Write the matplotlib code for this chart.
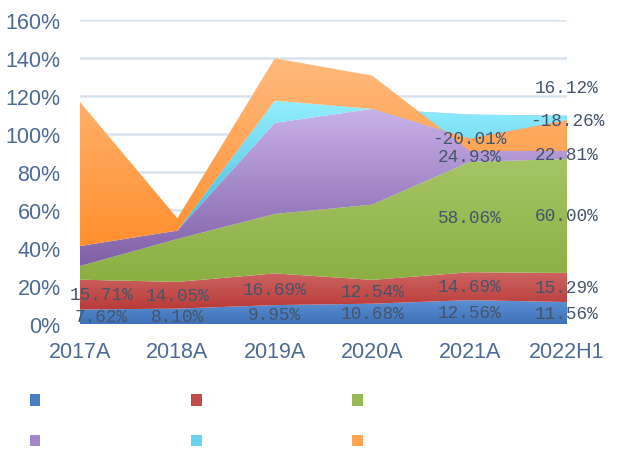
import numpy as np
import matplotlib.pyplot as plt
from matplotlib.colors import LinearSegmentedColormap
from matplotlib.patches import Patch

years = ['2017A', '2018A', '2019A', '2020A', '2021A', '2022H1']

# band heights (%) as drawn in the stacked area chart
blue = [7.62, 8.10, 9.95, 10.68, 12.56, 11.56]
red = [15.71, 14.05, 16.69, 12.54, 14.69, 15.29]
green = [7.2, 22.6, 31.3, 39.6, 58.06, 60.00]
purple = [10.5, 4.4, 47.9, 50.4, 24.93, 22.81]
cyan = [0.0, 0.0, 11.7, 0.0, -12.7, -2.4]
orange = [75.8, 6.5, 22.3, 17.5, -6.5, -16.1]

# data label texts (None = no label)
blue_lbl = ['7.62%', '8.10%', '9.95%', '10.68%', '12.56%', '11.56%']
red_lbl = ['15.71%', '14.05%', '16.69%', '12.54%', '14.69%', '15.29%']
green_lbl = [None, None, None, None, '58.06%', '60.00%']
purple_lbl = [None, None, None, None, '24.93%', '22.81%']
cyan_lbl = [None, None, None, None, None, '16.12%']
orange_lbl = [None, None, None, None, '-20.01%', '-18.26%']

series = [blue, red, green, purple, cyan, orange]
tops = ['#5C8FD2', '#CD6462', '#A5C466', '#C9B1EA', '#93EEFF', '#FFBA7D']
bottoms = ['#3E72B8', '#B83A38', '#8CAF42', '#7F5FA6', '#3CB5D6', '#FF8F2E']
mids = ['#4A7EC4', '#C24E4C', '#98B953', '#A487C8', '#66D2EC', '#FFA353']

x = np.arange(len(years))
cum = np.vstack([np.zeros(len(years)), np.cumsum(np.array(series), axis=0)])

fig = plt.figure(figsize=(6.17, 4.56), dpi=100)
ax = fig.add_axes([80/617, 1-325/456, 487/617, 304/456])

grad = np.linspace(0, 1, 256).reshape(-1, 1)
for i in range(len(series)):
    lo, hi = cum[i], cum[i+1]
    poly = ax.fill_between(x, lo, hi, facecolor='none', edgecolor='none', zorder=2+i)
    y0 = min(lo.min(), hi.min())
    y1 = max(lo.max(), hi.max())
    cmap = LinearSegmentedColormap.from_list('g%d' % i, [bottoms[i], tops[i]])
    im = ax.imshow(grad, extent=[x[0], x[-1], y0, y1], origin='lower', aspect='auto',
                   cmap=cmap, zorder=2+i, interpolation='bilinear')
    im.set_clip_path(poly.get_paths()[0], transform=ax.transData)

ax.set_xlim(x[0], x[-1])
ax.set_ylim(0, 160)
ax.set_yticks(range(0, 161, 20))
ax.set_yticklabels(['%d%%' % v for v in range(0, 161, 20)])
ax.set_xticks(x)
ax.set_xticklabels(years)
ax.yaxis.grid(True, color='#D9E3F0', lw=1.8)
ax.set_axisbelow(True)
for s in ax.spines.values():
    s.set_visible(False)
ax.tick_params(axis='y', length=0, pad=14, labelsize=15.5, labelcolor='#4C6A94')
ax.tick_params(axis='x', length=0, pad=12, labelsize=15.5, labelcolor='#4C6A94')
for t in ax.get_xticklabels() + ax.get_yticklabels():
    t.set_fontfamily('Liberation Sans')

# data labels
lbl_kw = dict(ha='center', va='center', fontsize=12.8, color='#44546A',
              family='Liberation Mono', zorder=20, clip_on=False)


def xpos(j):
    return x[j] + 0.22 if j == 0 else x[j]


for j in range(len(years)):
    for k, lbls in enumerate([blue_lbl, red_lbl, green_lbl]):
        if lbls[j]:
            ax.text(xpos(j), (cum[k][j] + cum[k+1][j]) / 2, lbls[j], **lbl_kw)
    if purple_lbl[j]:
        vis_top = min(cum[4][j], cum[5][j], cum[6][j])
        ax.text(xpos(j), (cum[3][j] + vis_top) / 2, purple_lbl[j], **lbl_kw)
    if orange_lbl[j]:
        ax.text(xpos(j), cum[5][j], orange_lbl[j], **lbl_kw)
    if cyan_lbl[j]:
        ax.annotate(cyan_lbl[j], (xpos(j), cum[4][j]), xytext=(0, 20.5),
                    textcoords='offset points', **lbl_kw)

# legend with empty labels, row-wise order
handles = [Patch(facecolor=c, edgecolor='none') for c in mids]
order = [0, 3, 1, 4, 2, 5]
fig.legend([handles[i] for i in order], [''] * 6, ncol=3, loc='upper left',
           bbox_to_anchor=(30/617, 1-395/456), frameon=False, fontsize=10,
           handlelength=0.75, handleheight=0.9, handletextpad=0,
           columnspacing=10.85, labelspacing=1.9, borderpad=0, borderaxespad=0)

fig.savefig('out.png', dpi=100)
